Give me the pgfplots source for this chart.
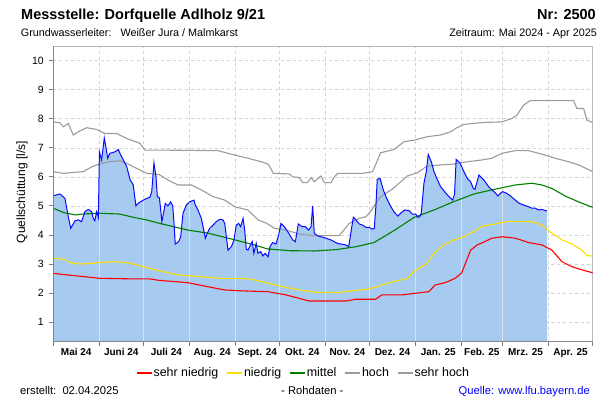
\documentclass[border=0pt]{standalone}
\usepackage{pgfplots}
\pgfplotsset{compat=1.18}
\usepackage{pgfplotstable}
\usepackage{fontspec}
\setmainfont{Liberation Sans}
\definecolor{fillblue}{RGB}{166,202,240}
\definecolor{lineblue}{RGB}{10,10,255}
\definecolor{cyellow}{RGB}{255,222,0}
\definecolor{cgreen}{RGB}{0,128,0}
\definecolor{cred}{RGB}{255,0,0}
\definecolor{cgray}{RGB}{155,155,155}
\definecolor{srcblue}{RGB}{0,0,255}

\pgfplotstableread{
x y
0 5.35
4.5 5.41
7.9 5.26
10.1 4.63
11.8 4.23
14.7 4.49
16.9 4.52
19.1 4.46
21.4 4.80
23.7 4.88
25.9 4.80
27.1 4.57
28.1 4.49
29.3 4.80
30.5 4.60
31.2 6.86
32.7 6.58
34.5 7.34
35.6 7.03
36.8 6.64
38.3 6.81
41.7 6.86
44.0 6.94
45.6 6.75
47.4 6.58
49.7 6.35
51.9 5.91
54.1 5.72
55.9 5.00
57.4 5.09
60.9 5.20
63.2 5.26
65.4 5.30
66.6 5.49
68.1 6.48
69.5 6.00
70.4 5.32
71.8 5.28
73.5 4.46
75.8 5.09
77.5 5.00
79.4 5.14
80.8 5.00
81.7 4.40
82.5 3.69
84.8 3.77
86.2 3.94
87.8 4.75
90.0 5.03
92.3 5.14
95.2 5.20
96.1 5.03
97.9 4.86
100.2 4.57
101.3 4.29
102.9 3.89
104.2 4.06
105.8 4.23
108.1 4.34
110.3 4.46
112.6 4.54
114.8 4.52
116.0 4.40
117.1 3.94
118.2 3.48
120.5 3.60
122.3 3.83
123.8 4.34
125.4 4.40
126.8 4.29
128.4 4.57
129.5 4.17
130.6 3.51
131.7 3.48
133.5 3.66
134.6 3.77
135.7 3.37
137.3 3.71
138.5 3.37
140.3 3.43
141.8 3.28
143.4 3.37
145.3 3.25
146.6 3.60
148.4 3.74
150.7 3.69
152.5 4.00
154.1 4.40
156.3 4.29
159.3 4.06
162.0 3.83
163.8 3.77
165.8 4.38
168.3 4.29
170.5 4.29
172.8 4.17
174.4 4.29
175.5 5.00
176.6 4.06
178.9 3.97
181.1 3.94
184.5 3.89
187.9 3.83
190.1 3.77
192.4 3.71
194.7 3.69
198.0 3.66
199.9 3.60
203.0 4.61
204.8 4.52
207.0 4.38
209.3 4.34
211.6 4.26
213.8 4.26
216.1 4.20
217.2 4.23
218.3 5.00
219.2 5.91
221.1 5.95
223.3 5.55
225.6 5.26
227.8 5.03
230.5 4.80
233.2 4.65
235.0 4.75
237.8 4.86
240.7 4.84
242.9 4.72
245.2 4.72
246.7 4.61
248.1 4.63
249.0 4.75
250.8 5.78
252.4 6.18
253.7 6.77
255.8 6.52
257.6 6.18
259.8 5.91
262.1 5.66
264.8 5.49
267.7 5.32
270.2 5.20
271.5 5.40
272.6 6.60
275.2 6.48
277.4 6.23
280.1 5.95
282.4 5.83
284.2 5.60
285.3 5.57
288.0 6.06
289.6 5.98
291.4 5.89
292.3 5.83
294.6 5.66
296.8 5.55
299.1 5.45
300.9 5.34
302.4 5.43
304.1 5.49
307.0 5.43
309.9 5.32
312.6 5.20
315.3 5.09
318.3 5.03
321.7 4.97
323.9 4.92
326.1 4.92
328.4 4.86
330.6 4.88
332.9 4.84
334.2 4.82
}\measured

\pgfplotstableread{
x y
0 2.68
9 2.63
20.3 2.57
31.6 2.51
54.1 2.49
65.4 2.49
71.5 2.44
91.1 2.36
104.7 2.22
116 2.11
127.2 2.08
145 2.05
157.4 1.94
166.4 1.82
173.2 1.73
198 1.73
204.8 1.79
218 1.79
222.4 1.94
235.9 1.94
254 2.05
258.4 2.28
265.2 2.36
271.9 2.51
276.4 2.70
282.4 3.48
286.9 3.66
291 3.75
296.8 3.89
303.6 3.94
312.6 3.89
321.6 3.74
330.6 3.66
337.4 3.48
344.2 3.08
350.9 2.91
357.7 2.80
365 2.70
}\sehrniedrig

\pgfplotstableread{
x y
0 3.20
7.9 3.16
11.2 3.05
18 3.00
27.1 3.03
31.6 3.06
42.9 3.08
51.9 3.03
60.9 2.91
71.5 2.77
84.4 2.63
97.9 2.57
113.7 2.51
125 2.51
134 2.48
144.5 2.35
157.4 2.20
166.4 2.11
177.7 2.03
191.3 2.02
202.5 2.08
211.6 2.13
217.5 2.20
222.4 2.28
230.5 2.40
239.5 2.51
244 2.74
253 3.03
257.6 3.37
264.3 3.66
271.1 3.83
277.9 3.94
284.6 4.11
290.5 4.31
299.1 4.38
305.9 4.46
317.1 4.46
323.9 4.46
330.6 4.34
337.4 4.06
344.2 3.83
350.9 3.69
357.7 3.48
361.1 3.29
365 3.28
}\niedrig

\pgfplotstableread{
x y
0 4.92
7 4.77
15 4.69
20 4.72
30 4.75
45 4.72
54 4.61
63 4.52
72 4.40
91 4.17
105 4.06
123 3.83
136 3.66
145 3.52
160 3.46
177 3.45
192 3.50
205 3.60
217 3.74
230.5 4.15
244 4.60
257.6 4.86
271.1 5.15
284.6 5.41
291.4 5.49
301.3 5.60
312.6 5.72
323.9 5.78
330.6 5.72
337.4 5.60
346.4 5.34
355.4 5.14
365 4.95
}\mittel

\pgfplotstableread{
x y
0 6.18
6.8 6.12
20.3 6.18
27.1 6.37
31.6 6.44
37.2 6.52
45.1 6.55
49.7 6.46
56.4 6.29
63.2 6.12
71.5 6.08
77.6 5.89
84.4 5.72
93.4 5.72
100.2 5.55
108.1 5.32
116 5.20
122.8 4.97
131.7 4.86
138.5 4.52
144.5 4.40
149.5 4.23
157.4 4.17
166.4 4.03
175.5 3.98
193.5 3.98
200.3 4.40
207.0 4.57
211.6 4.63
216 4.90
221 5.30
230 5.60
239.5 6.03
246.3 6.14
253 6.37
262.1 6.41
271.1 6.44
280.1 6.52
290 6.58
296.8 6.64
303.6 6.81
312.6 6.90
321.6 6.90
330.6 6.78
339.6 6.64
348.7 6.52
355.4 6.41
365 6.18
}\hoch

\pgfplotstableread{
x y
0 7.89
4.5 7.86
6.8 7.72
10.1 7.84
13.5 7.44
18 7.58
22.6 7.69
29.3 7.63
35 7.49
42.9 7.49
49.7 7.32
58.7 7.15
62.1 6.92
72.2 6.92
111.4 6.90
122.7 6.75
131.7 6.64
140.7 6.52
145.3 6.44
147 6.30
148.9 6.12
159.7 6.10
162 6.00
166.4 5.98
168.7 5.80
172.1 5.80
174.4 5.98
176.6 5.83
181.1 6.03
183.4 5.80
187.9 5.80
190.1 6.00
192.4 6.12
209.3 6.12
216.1 6.18
218.3 6.44
221.5 6.83
230.5 6.94
237.3 7.21
244 7.26
253 7.38
262.1 7.44
268.9 7.55
272.3 7.67
277.9 7.80
284.6 7.84
291.4 7.87
303.6 7.89
310.4 8.01
313.7 8.12
318.3 8.47
322.7 8.62
352.1 8.62
354.3 8.35
358.9 8.35
361.1 7.95
365 7.87
}\sehrhoch

\begin{document}
\begin{tikzpicture}
\begin{axis}[
  name=ax,
  at={(53.3pt,58.3pt)}, anchor=south west,
  scale only axis, width=539.4pt, height=295.7pt,
  xmin=0, xmax=365, ymin=0.33, ymax=10.5,
  xtick={0,31,61,92,123,153,184,214,245,276,304,335,365},
  xticklabels={},
  extra x ticks={15.5,46,76.5,107.5,138,168.5,199,229.5,260.5,290,319.5,350},
  extra x tick labels={Mai 24,Juni 24,Juli 24,Aug. 24,Sept. 24,Okt. 24,Nov. 24,Dez. 24,Jan. 25,Feb. 25,Mrz. 25,Apr. 25},
  extra x tick style={grid=none, major tick length=0pt},
  xticklabel style={font=\bfseries\fontsize{10}{12}\selectfont, anchor=north, yshift=-3pt},
  ytick={1,2,3,4,5,6,7,8,9,10},
  yticklabel style={font=\fontsize{10.5}{12}\selectfont, xshift=-2pt},
  /pgf/number format/assume math mode=true,
  grid=major,
  major grid style={color=gray!35, line width=0.5pt, dash pattern=on 3pt off 3pt},
  tick align=outside, major tick length=4pt, tick pos=left,
  axis line style={color=gray!55, line width=0.8pt},
  tick style={color=gray, line width=0.9pt},
  legend style={at={(0.153,-0.106)}, anchor=west, draw=none, fill=none,
    legend columns=5, font=\fontsize{12.4}{14}\selectfont,
    inner sep=0pt, nodes={inner sep=1.5pt},
    /tikz/every even column/.append style={column sep=6.5pt}},
  legend image code/.code={\draw[#1] (0pt,0pt) -- (15pt,0pt);},
]
\addplot[fill=fillblue, draw=none, forget plot] table[x=x,y=y]{\measured} \closedcycle;
\addplot[ycomb, color=gray!25, line width=1pt, forget plot] coordinates {
(31,4.9) (61,5.2) (92,5.14) (123,4.1) (153,4.2) (184,3.89) (214,4.26) (245,4.72) (276,6.4) (304,5.49)};
\addplot[color=cred, line width=1.1pt] table[x=x,y=y]{\sehrniedrig};
\addlegendentry{sehr niedrig}
\addplot[color=cyellow, line width=1.1pt] table[x=x,y=y]{\niedrig};
\addlegendentry{niedrig}
\addplot[color=cgreen, line width=1.1pt] table[x=x,y=y]{\mittel};
\addlegendentry{mittel}
\addplot[color=cgray, line width=1.1pt] table[x=x,y=y]{\hoch};
\addlegendentry{hoch}
\addplot[color=cgray, line width=1.1pt] table[x=x,y=y]{\sehrhoch};
\addlegendentry{sehr hoch}
\addplot[color=lineblue, line width=1.0pt, forget plot] table[x=x,y=y]{\measured};
\end{axis}
\draw[color=gray!95, line width=1.3pt] (ax.north west) -- (ax.south west) -- (ax.south east);

\node[anchor=base west, inner sep=0pt, font=\bfseries\fontsize{14.5}{16}\selectfont] at (21pt,380pt) {Messstelle: Dorfquelle Adlholz 9/21};
\node[anchor=base east, inner sep=0pt, font=\bfseries\fontsize{14.5}{16}\selectfont] at (596pt,380pt) {Nr: 2500};
\node[anchor=base west, inner sep=0pt, font=\fontsize{10.8}{12}\selectfont] at (20.7pt,363.3pt) {Grundwasserleiter:\ \ \ Weißer Jura / Malmkarst};
\node[anchor=base east, inner sep=0pt, font=\fontsize{10.8}{12}\selectfont] at (597pt,363.3pt) {Zeitraum: Mai 2024 - Apr 2025};
\node[rotate=90, inner sep=0pt, font=\fontsize{12}{14}\selectfont] at (22pt,208pt) {Quellschüttung [l/s]};
\node[anchor=base west, inner sep=0pt, font=\fontsize{11.2}{13}\selectfont] at (20pt,5.5pt) {erstellt:\ \ 02.04.2025};
\node[anchor=base west, inner sep=0pt, font=\fontsize{11.2}{13}\selectfont] at (281pt,5.5pt) {- Rohdaten -};
\node[anchor=base east, inner sep=0pt, text=srcblue, font=\fontsize{11.2}{13}\selectfont] at (590pt,5.5pt) {Quelle: www.lfu.bayern.de};
\pgfresetboundingbox
\useasboundingbox (0,0) rectangle (600pt,400pt);
\end{tikzpicture}
\end{document}
